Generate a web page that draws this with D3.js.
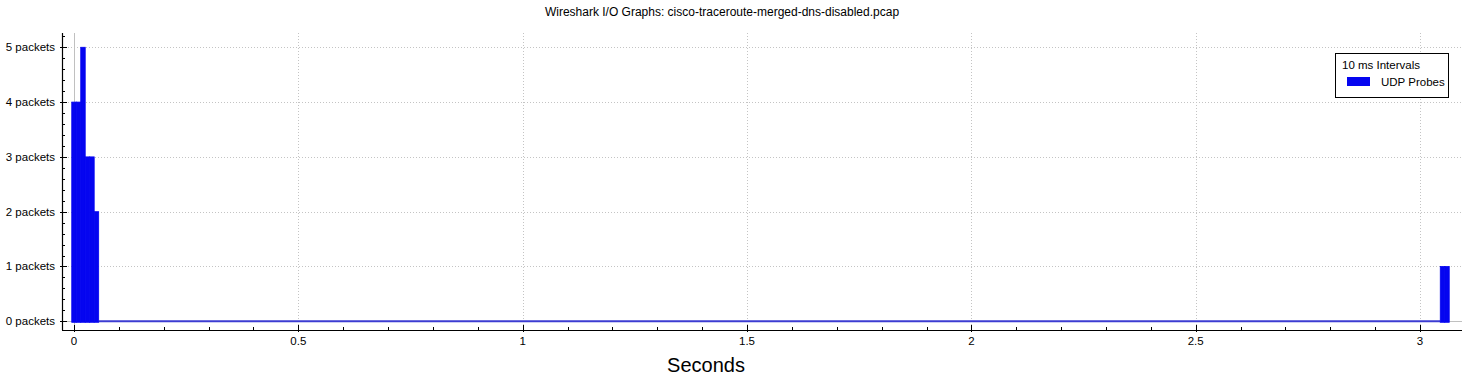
<!DOCTYPE html>
<html><head><meta charset="utf-8">
<script src="https://cdn.jsdelivr.net/npm/d3@7"></script>
<style>body{margin:0;background:#fff;} svg{display:block;font-family:"Liberation Sans",Arial,sans-serif;}</style>
</head><body>
<svg id="c" width="1474" height="386"></svg>
<script>
const title = "Wireshark I/O Graphs: cisco-traceroute-merged-dns-disabled.pcap";
const intervalSec = 0.01;
const binTimes = [0, 0.01, 0.02, 0.03, 0.04, 0.05, 3.05, 3.06];
const binValues = [4, 4, 5, 3, 3, 2, 1, 1];
const xTicks = [0, 0.5, 1, 1.5, 2, 2.5, 3];
const xTickLabels = ["0", "0.5", "1", "1.5", "2", "2.5", "3"];
const yTicks = [0, 1, 2, 3, 4, 5];
const yTickLabels = ["0 packets", "1 packets", "2 packets", "3 packets", "4 packets", "5 packets"];
const legendTitle = "10 ms Intervals";
const seriesName = "UDP Probes";

const svg = d3.select("#c");
const L = 62, R = 1462, T = 33, B = 330;
const x = d3.scaleLinear().domain([-0.02675, 3.09345]).range([L, R]);
const y = d3.scaleLinear().domain([-0.1588, 5.2606]).range([B, T]);

// title
svg.append("text").attr("x", 722).attr("y", 16).attr("text-anchor", "middle")
  .attr("font-size", 12).attr("fill", "#000").text(title);

// grid
const g = svg.append("g");
xTicks.filter(d => d !== 0).forEach(d => {
  g.append("line").attr("x1", Math.round(x(d)) + 0.5).attr("x2", Math.round(x(d)) + 0.5)
    .attr("y1", T).attr("y2", B).attr("stroke", "#c4c4c4").attr("stroke-dasharray", "1,2");
});
yTicks.filter(d => d !== 0).forEach(d => {
  g.append("line").attr("y1", Math.round(y(d)) + 0.5).attr("y2", Math.round(y(d)) + 0.5)
    .attr("x1", L).attr("x2", R).attr("stroke", "#c4c4c4").attr("stroke-dasharray", "1,2");
});
// zero lines
g.append("line").attr("x1", Math.round(x(0)) + 0.5).attr("x2", Math.round(x(0)) + 0.5)
  .attr("y1", T).attr("y2", B).attr("stroke", "#c0c0c0");
g.append("line").attr("y1", Math.round(y(0)) + 0.5).attr("y2", Math.round(y(0)) + 0.5)
  .attr("x1", L).attr("x2", R).attr("stroke", "#c0c0c0");

// zero baseline between the two bursts (intervals with 0 packets)
const firstEnd = binTimes[5] + intervalSec / 2;
const lastStart = binTimes[6] - intervalSec / 2;
svg.append("line").attr("x1", x(firstEnd)).attr("x2", x(lastStart))
  .attr("y1", y(0)).attr("y2", y(0)).attr("stroke", "#3c3cd2").attr("stroke-width", 2);

// bars
svg.append("g").selectAll("rect").data(binTimes).join("rect")
  .attr("x", (d) => x(d - intervalSec / 2))
  .attr("width", (d) => x(d + intervalSec / 2) - x(d - intervalSec / 2))
  .attr("y", (d, i) => y(binValues[i]))
  .attr("height", (d, i) => y(0) - y(binValues[i]) + 1)
  .attr("fill", "#0505f0")
  .attr("stroke", "#0505f0").attr("stroke-width", 0.8);

// axes
const ax = svg.append("g").attr("stroke", "#000");
ax.append("line").attr("x1", L).attr("x2", R).attr("y1", B + 0.5).attr("y2", B + 0.5).attr("stroke-width", 1.2);
ax.append("line").attr("x1", L + 0.5).attr("x2", L + 0.5).attr("y1", T).attr("y2", B).attr("stroke-width", 1.2);

const xMinor = d3.range(-0.0, 3.1, 0.1).map(d => +d.toFixed(2)).filter(d => !xTicks.some(t => Math.abs(t - d) < 1e-6) && x(d) <= R);
xMinor.forEach(d => ax.append("line").attr("x1", Math.round(x(d)) + 0.5).attr("x2", Math.round(x(d)) + 0.5).attr("y1", B).attr("y2", B - 3));
xTicks.forEach((d, i) => {
  ax.append("line").attr("x1", Math.round(x(d)) + 0.5).attr("x2", Math.round(x(d)) + 0.5).attr("y1", B + 2).attr("y2", B - 5);
  svg.append("text").attr("x", x(d)).attr("y", B + 15).attr("text-anchor", "middle")
    .attr("font-size", 11.5).attr("fill", "#000").text(xTickLabels[i]);
});
const yMinor = d3.range(0, 5.3, 0.2).map(d => +d.toFixed(2)).filter(d => !yTicks.some(t => Math.abs(t - d) < 1e-6) && y(d) >= T);
yMinor.forEach(d => ax.append("line").attr("y1", Math.round(y(d)) + 0.5).attr("y2", Math.round(y(d)) + 0.5).attr("x1", L).attr("x2", L + 3));
yTicks.forEach((d, i) => {
  ax.append("line").attr("y1", Math.round(y(d)) + 0.5).attr("y2", Math.round(y(d)) + 0.5).attr("x1", L - 2).attr("x2", L + 5);
  svg.append("text").attr("x", 55).attr("y", y(d) + 4).attr("text-anchor", "end")
    .attr("font-size", 11.5).attr("fill", "#000").text(yTickLabels[i]);
});

svg.append("text").attr("x", 706).attr("y", 372).attr("text-anchor", "middle")
  .attr("font-size", 20).attr("fill", "#000").text("Seconds");

// legend
const lg = svg.append("g");
lg.append("rect").attr("x", 1335.5).attr("y", 53.5).attr("width", 113).attr("height", 44)
  .attr("fill", "#fff").attr("stroke", "#000");
lg.append("text").attr("x", 1342).attr("y", 69).attr("font-size", 11.5).text(legendTitle);
lg.append("rect").attr("x", 1347).attr("y", 77).attr("width", 23).attr("height", 9).attr("fill", "#0505f0");
lg.append("text").attr("x", 1381).attr("y", 86).attr("font-size", 11.5).text(seriesName);
</script>
</body></html>
